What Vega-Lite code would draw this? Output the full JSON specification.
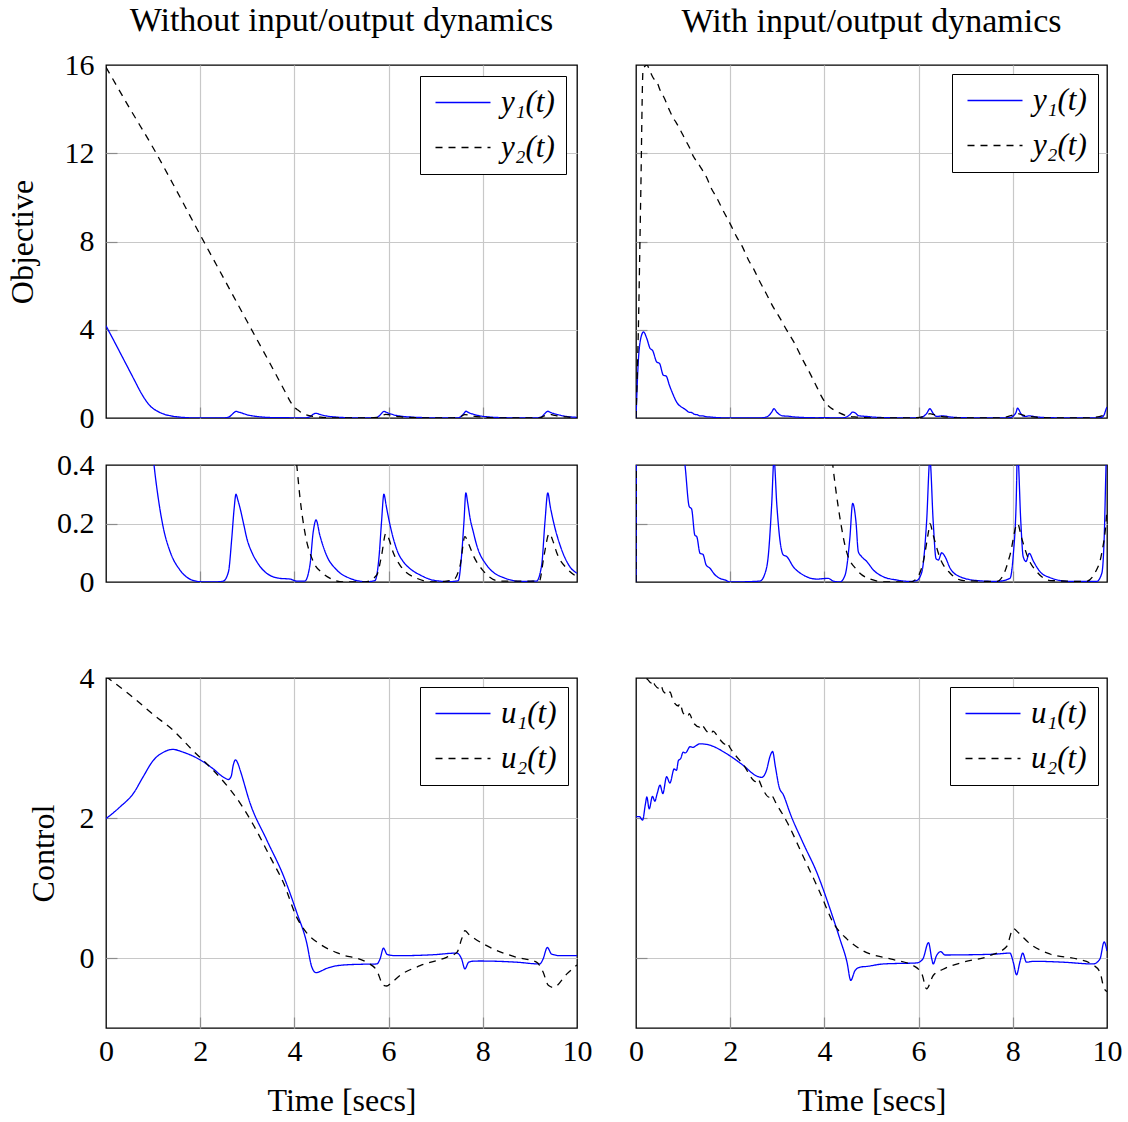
{
"$schema":"https://vega.github.io/schema/vega-lite/v6.json",
"padding":{"left":5,"top":3,"right":5,"bottom":5},
"background":"white",
"datasets":{
"yl":[
{"t":0,"v":4.18,"s":"y₁(t)"},{"t":0.2,"v":3.37,"s":"y₁(t)"},{"t":0.4,"v":2.55,"s":"y₁(t)"},{"t":0.6,"v":1.73,"s":"y₁(t)"},{"t":0.75,"v":1.12,"s":"y₁(t)"},{"t":0.85,"v":0.78,"s":"y₁(t)"},{"t":0.95,"v":0.52,"s":"y₁(t)"},{"t":1.02,"v":0.4,"s":"y₁(t)"},{"t":1.11,"v":0.286,"s":"y₁(t)"},{"t":1.22,"v":0.183,"s":"y₁(t)"},{"t":1.36,"v":0.104,"s":"y₁(t)"},{"t":1.57,"v":0.041,"s":"y₁(t)"},{"t":1.78,"v":0.01,"s":"y₁(t)"},{"t":2.0,"v":0.001,"s":"y₁(t)"},{"t":2.3,"v":0.0,"s":"y₁(t)"},{"t":2.49,"v":0.003,"s":"y₁(t)"},{"t":2.6,"v":0.035,"s":"y₁(t)"},{"t":2.67,"v":0.149,"s":"y₁(t)"},{"t":2.72,"v":0.25,"s":"y₁(t)"},{"t":2.76,"v":0.3,"s":"y₁(t)"},{"t":2.8,"v":0.28,"s":"y₁(t)"},{"t":2.85,"v":0.25,"s":"y₁(t)"},{"t":2.92,"v":0.2,"s":"y₁(t)"},{"t":2.99,"v":0.149,"s":"y₁(t)"},{"t":3.1,"v":0.1,"s":"y₁(t)"},{"t":3.2,"v":0.07,"s":"y₁(t)"},{"t":3.41,"v":0.03,"s":"y₁(t)"},{"t":3.69,"v":0.0125,"s":"y₁(t)"},{"t":3.91,"v":0.01,"s":"y₁(t)"},{"t":4.05,"v":0.003,"s":"y₁(t)"},{"t":4.22,"v":0.003,"s":"y₁(t)"},{"t":4.33,"v":0.058,"s":"y₁(t)"},{"t":4.4,"v":0.172,"s":"y₁(t)"},{"t":4.46,"v":0.212,"s":"y₁(t)"},{"t":4.54,"v":0.16,"s":"y₁(t)"},{"t":4.68,"v":0.092,"s":"y₁(t)"},{"t":4.9,"v":0.041,"s":"y₁(t)"},{"t":5.18,"v":0.0125,"s":"y₁(t)"},{"t":5.53,"v":0.001,"s":"y₁(t)"},{"t":5.71,"v":0.005,"s":"y₁(t)"},{"t":5.8,"v":0.092,"s":"y₁(t)"},{"t":5.85,"v":0.206,"s":"y₁(t)"},{"t":5.9,"v":0.3,"s":"y₁(t)"},{"t":5.95,"v":0.26,"s":"y₁(t)"},{"t":6.0,"v":0.218,"s":"y₁(t)"},{"t":6.1,"v":0.149,"s":"y₁(t)"},{"t":6.2,"v":0.1,"s":"y₁(t)"},{"t":6.31,"v":0.07,"s":"y₁(t)"},{"t":6.5,"v":0.04,"s":"y₁(t)"},{"t":6.67,"v":0.024,"s":"y₁(t)"},{"t":6.9,"v":0.008,"s":"y₁(t)"},{"t":7.09,"v":0.003,"s":"y₁(t)"},{"t":7.3,"v":0.001,"s":"y₁(t)"},{"t":7.48,"v":0.005,"s":"y₁(t)"},{"t":7.55,"v":0.092,"s":"y₁(t)"},{"t":7.6,"v":0.206,"s":"y₁(t)"},{"t":7.64,"v":0.305,"s":"y₁(t)"},{"t":7.68,"v":0.27,"s":"y₁(t)"},{"t":7.73,"v":0.218,"s":"y₁(t)"},{"t":7.8,"v":0.17,"s":"y₁(t)"},{"t":7.87,"v":0.126,"s":"y₁(t)"},{"t":8.08,"v":0.058,"s":"y₁(t)"},{"t":8.25,"v":0.03,"s":"y₁(t)"},{"t":8.44,"v":0.015,"s":"y₁(t)"},{"t":8.79,"v":0.002,"s":"y₁(t)"},{"t":9.14,"v":0.003,"s":"y₁(t)"},{"t":9.25,"v":0.058,"s":"y₁(t)"},{"t":9.32,"v":0.206,"s":"y₁(t)"},{"t":9.38,"v":0.305,"s":"y₁(t)"},{"t":9.43,"v":0.26,"s":"y₁(t)"},{"t":9.5,"v":0.206,"s":"y₁(t)"},{"t":9.64,"v":0.126,"s":"y₁(t)"},{"t":9.85,"v":0.052,"s":"y₁(t)"},{"t":10,"v":0.03,"s":"y₁(t)"},
{"t":0,"v":15.9,"s":"y₂(t)"},{"t":0.5,"v":14.05,"s":"y₂(t)"},{"t":1.0,"v":12.25,"s":"y₂(t)"},{"t":1.5,"v":10.3,"s":"y₂(t)"},{"t":2.0,"v":8.3,"s":"y₂(t)"},{"t":2.5,"v":6.33,"s":"y₂(t)"},{"t":3.0,"v":4.36,"s":"y₂(t)"},{"t":3.5,"v":2.4,"s":"y₂(t)"},{"t":3.8,"v":1.2,"s":"y₂(t)"},{"t":3.92,"v":0.72,"s":"y₂(t)"},{"t":4.0,"v":0.48,"s":"y₂(t)"},{"t":4.05,"v":0.4,"s":"y₂(t)"},{"t":4.12,"v":0.286,"s":"y₂(t)"},{"t":4.22,"v":0.172,"s":"y₂(t)"},{"t":4.4,"v":0.07,"s":"y₂(t)"},{"t":4.6,"v":0.03,"s":"y₂(t)"},{"t":4.76,"v":0.0125,"s":"y₂(t)"},{"t":5.04,"v":0.0,"s":"y₂(t)"},{"t":5.5,"v":0.0,"s":"y₂(t)"},{"t":5.75,"v":0.024,"s":"y₂(t)"},{"t":5.85,"v":0.09,"s":"y₂(t)"},{"t":5.94,"v":0.166,"s":"y₂(t)"},{"t":6.0,"v":0.15,"s":"y₂(t)"},{"t":6.1,"v":0.1,"s":"y₂(t)"},{"t":6.24,"v":0.058,"s":"y₂(t)"},{"t":6.6,"v":0.0125,"s":"y₂(t)"},{"t":6.95,"v":0.0,"s":"y₂(t)"},{"t":7.37,"v":0.007,"s":"y₂(t)"},{"t":7.52,"v":0.058,"s":"y₂(t)"},{"t":7.62,"v":0.155,"s":"y₂(t)"},{"t":7.7,"v":0.13,"s":"y₂(t)"},{"t":7.8,"v":0.09,"s":"y₂(t)"},{"t":8.0,"v":0.04,"s":"y₂(t)"},{"t":8.37,"v":0.003,"s":"y₂(t)"},{"t":9.2,"v":0.003,"s":"y₂(t)"},{"t":9.3,"v":0.09,"s":"y₂(t)"},{"t":9.41,"v":0.166,"s":"y₂(t)"},{"t":9.5,"v":0.135,"s":"y₂(t)"},{"t":9.57,"v":0.1,"s":"y₂(t)"},{"t":9.78,"v":0.047,"s":"y₂(t)"},{"t":10,"v":0.018,"s":"y₂(t)"}
],
"yr":[
{"t":0,"v":0,"s":"y₁(t)"},{"t":0.05,"v":2.6,"s":"y₁(t)"},{"t":0.1,"v":3.6,"s":"y₁(t)"},{"t":0.16,"v":3.9,"s":"y₁(t)"},{"t":0.23,"v":3.6,"s":"y₁(t)"},{"t":0.3,"v":3.15,"s":"y₁(t)"},{"t":0.35,"v":3.07,"s":"y₁(t)"},{"t":0.44,"v":2.54,"s":"y₁(t)"},{"t":0.5,"v":2.47,"s":"y₁(t)"},{"t":0.58,"v":1.94,"s":"y₁(t)"},{"t":0.64,"v":1.9,"s":"y₁(t)"},{"t":0.71,"v":1.48,"s":"y₁(t)"},{"t":0.78,"v":1.1,"s":"y₁(t)"},{"t":0.86,"v":0.73,"s":"y₁(t)"},{"t":1.0,"v":0.45,"s":"y₁(t)"},{"t":1.04,"v":0.4,"s":"y₁(t)"},{"t":1.13,"v":0.258,"s":"y₁(t)"},{"t":1.18,"v":0.25,"s":"y₁(t)"},{"t":1.25,"v":0.16,"s":"y₁(t)"},{"t":1.29,"v":0.155,"s":"y₁(t)"},{"t":1.36,"v":0.098,"s":"y₁(t)"},{"t":1.42,"v":0.095,"s":"y₁(t)"},{"t":1.49,"v":0.058,"s":"y₁(t)"},{"t":1.57,"v":0.047,"s":"y₁(t)"},{"t":1.68,"v":0.024,"s":"y₁(t)"},{"t":1.78,"v":0.0125,"s":"y₁(t)"},{"t":1.89,"v":0.007,"s":"y₁(t)"},{"t":2.0,"v":0.0,"s":"y₁(t)"},{"t":2.63,"v":0.003,"s":"y₁(t)"},{"t":2.74,"v":0.03,"s":"y₁(t)"},{"t":2.81,"v":0.092,"s":"y₁(t)"},{"t":2.88,"v":0.263,"s":"y₁(t)"},{"t":2.93,"v":0.42,"s":"y₁(t)"},{"t":2.99,"v":0.263,"s":"y₁(t)"},{"t":3.06,"v":0.138,"s":"y₁(t)"},{"t":3.13,"v":0.092,"s":"y₁(t)"},{"t":3.2,"v":0.087,"s":"y₁(t)"},{"t":3.34,"v":0.052,"s":"y₁(t)"},{"t":3.55,"v":0.024,"s":"y₁(t)"},{"t":3.84,"v":0.01,"s":"y₁(t)"},{"t":4.08,"v":0.0125,"s":"y₁(t)"},{"t":4.19,"v":0.003,"s":"y₁(t)"},{"t":4.33,"v":0.0,"s":"y₁(t)"},{"t":4.44,"v":0.024,"s":"y₁(t)"},{"t":4.54,"v":0.149,"s":"y₁(t)"},{"t":4.6,"v":0.269,"s":"y₁(t)"},{"t":4.67,"v":0.206,"s":"y₁(t)"},{"t":4.72,"v":0.104,"s":"y₁(t)"},{"t":4.79,"v":0.087,"s":"y₁(t)"},{"t":4.9,"v":0.07,"s":"y₁(t)"},{"t":5.04,"v":0.041,"s":"y₁(t)"},{"t":5.25,"v":0.018,"s":"y₁(t)"},{"t":5.53,"v":0.007,"s":"y₁(t)"},{"t":5.82,"v":0.002,"s":"y₁(t)"},{"t":5.96,"v":0.005,"s":"y₁(t)"},{"t":6.07,"v":0.035,"s":"y₁(t)"},{"t":6.17,"v":0.206,"s":"y₁(t)"},{"t":6.24,"v":0.42,"s":"y₁(t)"},{"t":6.31,"v":0.206,"s":"y₁(t)"},{"t":6.37,"v":0.08,"s":"y₁(t)"},{"t":6.42,"v":0.075,"s":"y₁(t)"},{"t":6.49,"v":0.1,"s":"y₁(t)"},{"t":6.56,"v":0.087,"s":"y₁(t)"},{"t":6.67,"v":0.047,"s":"y₁(t)"},{"t":6.88,"v":0.018,"s":"y₁(t)"},{"t":7.24,"v":0.005,"s":"y₁(t)"},{"t":7.66,"v":0.002,"s":"y₁(t)"},{"t":7.94,"v":0.0125,"s":"y₁(t)"},{"t":8.01,"v":0.092,"s":"y₁(t)"},{"t":8.07,"v":0.263,"s":"y₁(t)"},{"t":8.1,"v":0.45,"s":"y₁(t)"},{"t":8.17,"v":0.206,"s":"y₁(t)"},{"t":8.22,"v":0.087,"s":"y₁(t)"},{"t":8.28,"v":0.07,"s":"y₁(t)"},{"t":8.35,"v":0.098,"s":"y₁(t)"},{"t":8.44,"v":0.07,"s":"y₁(t)"},{"t":8.58,"v":0.035,"s":"y₁(t)"},{"t":8.79,"v":0.015,"s":"y₁(t)"},{"t":9.21,"v":0.002,"s":"y₁(t)"},{"t":9.78,"v":0.002,"s":"y₁(t)"},{"t":9.89,"v":0.03,"s":"y₁(t)"},{"t":9.94,"v":0.149,"s":"y₁(t)"},{"t":9.98,"v":0.4,"s":"y₁(t)"},{"t":10,"v":0.5,"s":"y₁(t)"},
{"t":0,"v":0,"s":"y₂(t)"},{"t":0.05,"v":4,"s":"y₂(t)"},{"t":0.1,"v":10,"s":"y₂(t)"},{"t":0.15,"v":15.8,"s":"y₂(t)"},{"t":0.23,"v":16.0,"s":"y₂(t)"},{"t":0.3,"v":15.7,"s":"y₂(t)"},{"t":0.37,"v":15.4,"s":"y₂(t)"},{"t":0.45,"v":15.2,"s":"y₂(t)"},{"t":0.51,"v":14.87,"s":"y₂(t)"},{"t":0.6,"v":14.5,"s":"y₂(t)"},{"t":0.7,"v":14.0,"s":"y₂(t)"},{"t":0.79,"v":13.6,"s":"y₂(t)"},{"t":0.85,"v":13.4,"s":"y₂(t)"},{"t":0.93,"v":13.1,"s":"y₂(t)"},{"t":1.05,"v":12.6,"s":"y₂(t)"},{"t":1.15,"v":12.2,"s":"y₂(t)"},{"t":1.22,"v":11.85,"s":"y₂(t)"},{"t":1.3,"v":11.6,"s":"y₂(t)"},{"t":1.39,"v":11.3,"s":"y₂(t)"},{"t":1.5,"v":10.9,"s":"y₂(t)"},{"t":1.6,"v":10.4,"s":"y₂(t)"},{"t":1.71,"v":10.0,"s":"y₂(t)"},{"t":1.85,"v":9.4,"s":"y₂(t)"},{"t":2.0,"v":8.8,"s":"y₂(t)"},{"t":2.14,"v":8.2,"s":"y₂(t)"},{"t":2.25,"v":7.8,"s":"y₂(t)"},{"t":2.39,"v":7.15,"s":"y₂(t)"},{"t":2.5,"v":6.75,"s":"y₂(t)"},{"t":2.6,"v":6.3,"s":"y₂(t)"},{"t":2.75,"v":5.7,"s":"y₂(t)"},{"t":2.92,"v":5.0,"s":"y₂(t)"},{"t":3.05,"v":4.55,"s":"y₂(t)"},{"t":3.2,"v":3.98,"s":"y₂(t)"},{"t":3.35,"v":3.45,"s":"y₂(t)"},{"t":3.55,"v":2.6,"s":"y₂(t)"},{"t":3.7,"v":2.0,"s":"y₂(t)"},{"t":3.84,"v":1.4,"s":"y₂(t)"},{"t":3.92,"v":1.05,"s":"y₂(t)"},{"t":4.01,"v":0.73,"s":"y₂(t)"},{"t":4.1,"v":0.52,"s":"y₂(t)"},{"t":4.19,"v":0.383,"s":"y₂(t)"},{"t":4.32,"v":0.229,"s":"y₂(t)"},{"t":4.47,"v":0.104,"s":"y₂(t)"},{"t":4.69,"v":0.041,"s":"y₂(t)"},{"t":4.97,"v":0.01,"s":"y₂(t)"},{"t":5.3,"v":0.0,"s":"y₂(t)"},{"t":5.82,"v":0.0,"s":"y₂(t)"},{"t":5.96,"v":0.0125,"s":"y₂(t)"},{"t":6.1,"v":0.07,"s":"y₂(t)"},{"t":6.21,"v":0.172,"s":"y₂(t)"},{"t":6.24,"v":0.2,"s":"y₂(t)"},{"t":6.31,"v":0.16,"s":"y₂(t)"},{"t":6.46,"v":0.08,"s":"y₂(t)"},{"t":6.67,"v":0.03,"s":"y₂(t)"},{"t":6.95,"v":0.005,"s":"y₂(t)"},{"t":7.66,"v":0.002,"s":"y₂(t)"},{"t":7.8,"v":0.024,"s":"y₂(t)"},{"t":7.94,"v":0.092,"s":"y₂(t)"},{"t":8.1,"v":0.2,"s":"y₂(t)"},{"t":8.19,"v":0.149,"s":"y₂(t)"},{"t":8.33,"v":0.08,"s":"y₂(t)"},{"t":8.51,"v":0.035,"s":"y₂(t)"},{"t":8.79,"v":0.005,"s":"y₂(t)"},{"t":9.56,"v":0.002,"s":"y₂(t)"},{"t":9.74,"v":0.03,"s":"y₂(t)"},{"t":9.89,"v":0.1,"s":"y₂(t)"},{"t":9.98,"v":0.206,"s":"y₂(t)"},{"t":10,"v":0.25,"s":"y₂(t)"}
],
"ul":[
{"t":0,"v":1.99,"s":"u₁(t)"},{"t":0.3,"v":2.16,"s":"u₁(t)"},{"t":0.58,"v":2.35,"s":"u₁(t)"},{"t":0.79,"v":2.59,"s":"u₁(t)"},{"t":1.0,"v":2.82,"s":"u₁(t)"},{"t":1.22,"v":2.94,"s":"u₁(t)"},{"t":1.42,"v":2.98,"s":"u₁(t)"},{"t":1.64,"v":2.94,"s":"u₁(t)"},{"t":2.0,"v":2.83,"s":"u₁(t)"},{"t":2.28,"v":2.7,"s":"u₁(t)"},{"t":2.5,"v":2.58,"s":"u₁(t)"},{"t":2.6,"v":2.55,"s":"u₁(t)"},{"t":2.66,"v":2.6,"s":"u₁(t)"},{"t":2.7,"v":2.75,"s":"u₁(t)"},{"t":2.75,"v":2.83,"s":"u₁(t)"},{"t":2.8,"v":2.78,"s":"u₁(t)"},{"t":2.85,"v":2.68,"s":"u₁(t)"},{"t":3.06,"v":2.21,"s":"u₁(t)"},{"t":3.41,"v":1.69,"s":"u₁(t)"},{"t":3.77,"v":1.17,"s":"u₁(t)"},{"t":4.05,"v":0.65,"s":"u₁(t)"},{"t":4.26,"v":0.22,"s":"u₁(t)"},{"t":4.37,"v":-0.13,"s":"u₁(t)"},{"t":4.46,"v":-0.21,"s":"u₁(t)"},{"t":4.55,"v":-0.19,"s":"u₁(t)"},{"t":4.68,"v":-0.15,"s":"u₁(t)"},{"t":5.04,"v":-0.1,"s":"u₁(t)"},{"t":5.4,"v":-0.09,"s":"u₁(t)"},{"t":5.75,"v":-0.085,"s":"u₁(t)"},{"t":5.82,"v":-0.01,"s":"u₁(t)"},{"t":5.89,"v":0.14,"s":"u₁(t)"},{"t":5.97,"v":0.05,"s":"u₁(t)"},{"t":6.1,"v":0.035,"s":"u₁(t)"},{"t":6.24,"v":0.033,"s":"u₁(t)"},{"t":6.95,"v":0.047,"s":"u₁(t)"},{"t":7.45,"v":0.07,"s":"u₁(t)"},{"t":7.55,"v":-0.014,"s":"u₁(t)"},{"t":7.62,"v":-0.156,"s":"u₁(t)"},{"t":7.7,"v":-0.06,"s":"u₁(t)"},{"t":7.8,"v":-0.045,"s":"u₁(t)"},{"t":7.94,"v":-0.043,"s":"u₁(t)"},{"t":8.72,"v":-0.06,"s":"u₁(t)"},{"t":9.21,"v":-0.085,"s":"u₁(t)"},{"t":9.28,"v":-0.014,"s":"u₁(t)"},{"t":9.37,"v":0.15,"s":"u₁(t)"},{"t":9.46,"v":0.057,"s":"u₁(t)"},{"t":9.64,"v":0.033,"s":"u₁(t)"},{"t":10,"v":0.033,"s":"u₁(t)"},
{"t":0,"v":4.02,"s":"u₂(t)"},{"t":0.58,"v":3.72,"s":"u₂(t)"},{"t":1.0,"v":3.48,"s":"u₂(t)"},{"t":1.43,"v":3.25,"s":"u₂(t)"},{"t":1.85,"v":2.96,"s":"u₂(t)"},{"t":2.28,"v":2.68,"s":"u₂(t)"},{"t":2.56,"v":2.47,"s":"u₂(t)"},{"t":2.85,"v":2.21,"s":"u₂(t)"},{"t":3.13,"v":1.9,"s":"u₂(t)"},{"t":3.48,"v":1.45,"s":"u₂(t)"},{"t":3.77,"v":1.07,"s":"u₂(t)"},{"t":4.05,"v":0.58,"s":"u₂(t)"},{"t":4.26,"v":0.36,"s":"u₂(t)"},{"t":4.54,"v":0.2,"s":"u₂(t)"},{"t":4.97,"v":0.057,"s":"u₂(t)"},{"t":5.53,"v":-0.06,"s":"u₂(t)"},{"t":5.75,"v":-0.18,"s":"u₂(t)"},{"t":5.89,"v":-0.39,"s":"u₂(t)"},{"t":5.96,"v":-0.4,"s":"u₂(t)"},{"t":6.05,"v":-0.36,"s":"u₂(t)"},{"t":6.24,"v":-0.25,"s":"u₂(t)"},{"t":6.67,"v":-0.11,"s":"u₂(t)"},{"t":7.23,"v":0.01,"s":"u₂(t)"},{"t":7.45,"v":0.08,"s":"u₂(t)"},{"t":7.55,"v":0.27,"s":"u₂(t)"},{"t":7.62,"v":0.39,"s":"u₂(t)"},{"t":7.7,"v":0.34,"s":"u₂(t)"},{"t":7.8,"v":0.29,"s":"u₂(t)"},{"t":8.22,"v":0.13,"s":"u₂(t)"},{"t":8.72,"v":0.01,"s":"u₂(t)"},{"t":9.14,"v":-0.06,"s":"u₂(t)"},{"t":9.28,"v":-0.2,"s":"u₂(t)"},{"t":9.39,"v":-0.39,"s":"u₂(t)"},{"t":9.5,"v":-0.42,"s":"u₂(t)"},{"t":9.78,"v":-0.23,"s":"u₂(t)"},{"t":10,"v":-0.1,"s":"u₂(t)"}
],
"ur":[
{"t":0,"v":2.02,"s":"u₁(t)"},{"t":0.08,"v":2.02,"s":"u₁(t)"},{"t":0.1,"v":2.0,"s":"u₁(t)"},{"t":0.14,"v":1.97,"s":"u₁(t)"},{"t":0.2,"v":2.2,"s":"u₁(t)"},{"t":0.23,"v":2.3,"s":"u₁(t)"},{"t":0.28,"v":2.13,"s":"u₁(t)"},{"t":0.35,"v":2.31,"s":"u₁(t)"},{"t":0.4,"v":2.24,"s":"u₁(t)"},{"t":0.45,"v":2.35,"s":"u₁(t)"},{"t":0.51,"v":2.47,"s":"u₁(t)"},{"t":0.57,"v":2.35,"s":"u₁(t)"},{"t":0.65,"v":2.59,"s":"u₁(t)"},{"t":0.72,"v":2.5,"s":"u₁(t)"},{"t":0.81,"v":2.7,"s":"u₁(t)"},{"t":0.86,"v":2.68,"s":"u₁(t)"},{"t":0.9,"v":2.82,"s":"u₁(t)"},{"t":0.95,"v":2.85,"s":"u₁(t)"},{"t":1.0,"v":2.94,"s":"u₁(t)"},{"t":1.05,"v":2.93,"s":"u₁(t)"},{"t":1.15,"v":3.02,"s":"u₁(t)"},{"t":1.2,"v":3.01,"s":"u₁(t)"},{"t":1.36,"v":3.06,"s":"u₁(t)"},{"t":1.57,"v":3.04,"s":"u₁(t)"},{"t":1.92,"v":2.92,"s":"u₁(t)"},{"t":2.28,"v":2.75,"s":"u₁(t)"},{"t":2.56,"v":2.6,"s":"u₁(t)"},{"t":2.67,"v":2.58,"s":"u₁(t)"},{"t":2.77,"v":2.68,"s":"u₁(t)"},{"t":2.85,"v":2.89,"s":"u₁(t)"},{"t":2.9,"v":2.95,"s":"u₁(t)"},{"t":2.96,"v":2.73,"s":"u₁(t)"},{"t":3.04,"v":2.44,"s":"u₁(t)"},{"t":3.13,"v":2.33,"s":"u₁(t)"},{"t":3.27,"v":2.07,"s":"u₁(t)"},{"t":3.55,"v":1.64,"s":"u₁(t)"},{"t":3.84,"v":1.22,"s":"u₁(t)"},{"t":4.12,"v":0.7,"s":"u₁(t)"},{"t":4.33,"v":0.27,"s":"u₁(t)"},{"t":4.48,"v":-0.06,"s":"u₁(t)"},{"t":4.56,"v":-0.32,"s":"u₁(t)"},{"t":4.65,"v":-0.18,"s":"u₁(t)"},{"t":4.76,"v":-0.13,"s":"u₁(t)"},{"t":4.9,"v":-0.12,"s":"u₁(t)"},{"t":5.25,"v":-0.085,"s":"u₁(t)"},{"t":5.96,"v":-0.07,"s":"u₁(t)"},{"t":6.09,"v":-0.014,"s":"u₁(t)"},{"t":6.21,"v":0.22,"s":"u₁(t)"},{"t":6.28,"v":-0.014,"s":"u₁(t)"},{"t":6.31,"v":-0.085,"s":"u₁(t)"},{"t":6.38,"v":0.033,"s":"u₁(t)"},{"t":6.47,"v":0.09,"s":"u₁(t)"},{"t":6.56,"v":0.043,"s":"u₁(t)"},{"t":6.95,"v":0.045,"s":"u₁(t)"},{"t":7.66,"v":0.057,"s":"u₁(t)"},{"t":7.94,"v":0.07,"s":"u₁(t)"},{"t":8.01,"v":-0.06,"s":"u₁(t)"},{"t":8.08,"v":-0.24,"s":"u₁(t)"},{"t":8.15,"v":-0.06,"s":"u₁(t)"},{"t":8.21,"v":0.07,"s":"u₁(t)"},{"t":8.29,"v":-0.06,"s":"u₁(t)"},{"t":8.44,"v":-0.047,"s":"u₁(t)"},{"t":9.07,"v":-0.06,"s":"u₁(t)"},{"t":9.71,"v":-0.085,"s":"u₁(t)"},{"t":9.85,"v":-0.014,"s":"u₁(t)"},{"t":9.94,"v":0.23,"s":"u₁(t)"},{"t":10,"v":0.1,"s":"u₁(t)"},
{"t":0,"v":4.1,"s":"u₂(t)"},{"t":0.26,"v":3.97,"s":"u₂(t)"},{"t":0.32,"v":3.93,"s":"u₂(t)"},{"t":0.36,"v":3.97,"s":"u₂(t)"},{"t":0.4,"v":3.9,"s":"u₂(t)"},{"t":0.5,"v":3.85,"s":"u₂(t)"},{"t":0.53,"v":3.89,"s":"u₂(t)"},{"t":0.58,"v":3.81,"s":"u₂(t)"},{"t":0.7,"v":3.76,"s":"u₂(t)"},{"t":0.72,"v":3.8,"s":"u₂(t)"},{"t":0.79,"v":3.67,"s":"u₂(t)"},{"t":0.9,"v":3.6,"s":"u₂(t)"},{"t":0.93,"v":3.64,"s":"u₂(t)"},{"t":1.0,"v":3.5,"s":"u₂(t)"},{"t":1.1,"v":3.45,"s":"u₂(t)"},{"t":1.13,"v":3.49,"s":"u₂(t)"},{"t":1.22,"v":3.36,"s":"u₂(t)"},{"t":1.35,"v":3.3,"s":"u₂(t)"},{"t":1.38,"v":3.34,"s":"u₂(t)"},{"t":1.5,"v":3.24,"s":"u₂(t)"},{"t":1.6,"v":3.2,"s":"u₂(t)"},{"t":1.63,"v":3.24,"s":"u₂(t)"},{"t":1.78,"v":3.12,"s":"u₂(t)"},{"t":1.9,"v":3.05,"s":"u₂(t)"},{"t":1.93,"v":3.08,"s":"u₂(t)"},{"t":2.0,"v":3.0,"s":"u₂(t)"},{"t":2.28,"v":2.76,"s":"u₂(t)"},{"t":2.55,"v":2.52,"s":"u₂(t)"},{"t":2.58,"v":2.56,"s":"u₂(t)"},{"t":2.7,"v":2.4,"s":"u₂(t)"},{"t":2.82,"v":2.3,"s":"u₂(t)"},{"t":2.85,"v":2.34,"s":"u₂(t)"},{"t":2.99,"v":2.19,"s":"u₂(t)"},{"t":3.2,"v":1.95,"s":"u₂(t)"},{"t":3.55,"v":1.45,"s":"u₂(t)"},{"t":3.91,"v":0.93,"s":"u₂(t)"},{"t":4.19,"v":0.5,"s":"u₂(t)"},{"t":4.48,"v":0.27,"s":"u₂(t)"},{"t":4.83,"v":0.1,"s":"u₂(t)"},{"t":5.4,"v":-0.014,"s":"u₂(t)"},{"t":5.89,"v":-0.11,"s":"u₂(t)"},{"t":6.07,"v":-0.23,"s":"u₂(t)"},{"t":6.17,"v":-0.44,"s":"u₂(t)"},{"t":6.31,"v":-0.25,"s":"u₂(t)"},{"t":6.52,"v":-0.16,"s":"u₂(t)"},{"t":6.95,"v":-0.06,"s":"u₂(t)"},{"t":7.51,"v":0.033,"s":"u₂(t)"},{"t":7.87,"v":0.165,"s":"u₂(t)"},{"t":8.01,"v":0.42,"s":"u₂(t)"},{"t":8.12,"v":0.36,"s":"u₂(t)"},{"t":8.37,"v":0.2,"s":"u₂(t)"},{"t":8.79,"v":0.057,"s":"u₂(t)"},{"t":9.36,"v":-0.014,"s":"u₂(t)"},{"t":9.67,"v":-0.085,"s":"u₂(t)"},{"t":9.85,"v":-0.2,"s":"u₂(t)"},{"t":9.93,"v":-0.42,"s":"u₂(t)"},{"t":10,"v":-0.48,"s":"u₂(t)"}
]
},
"columns":2,
"spacing":{"row":47,"column":59},
"bounds":"flush",
"resolve":{"scale":{"color":"independent","strokeDash":"independent"}},
"concat":[
  {"width":471,"height":353,"title":{"text":"Without input/output dynamics","offset":12},"data":{"name":"yl"},
   "mark":{"type":"line","clip":true,"strokeWidth":1.3,"interpolate":"monotone"},
   "encoding":{
    "x":{"field":"t","type":"quantitative","scale":{"domain":[0,10],"nice":false},"axis":{"values":[0,2,4,6,8,10],"labels":false,"title":null,"gridColor":{"condition":{"test":"datum.value == 0 || datum.value == 10","value":"transparent"},"value":"#c8c8c8"},"tickColor":{"condition":{"test":"datum.value == 0 || datum.value == 10","value":"transparent"},"value":"#8c8c8c"}}},
    "y":{"field":"v","type":"quantitative","scale":{"domain":[0,16],"nice":false},"axis":{"values":[0,4,8,12,16],"title":"Objective","titleX":-84,"titleY":176.5,"gridColor":{"condition":{"test":"datum.value == 0 || datum.value == 16","value":"transparent"},"value":"#c8c8c8"},"tickColor":{"condition":{"test":"datum.value == 0 || datum.value == 16","value":"transparent"},"value":"#8c8c8c"}}},
    "color":{"field":"s","type":"nominal","scale":{"domain":["y₁(t)","y₂(t)"],"range":["#0000ff","#000000"]},"legend":{"title":null,"orient":"top-right","offset":11}},
    "strokeDash":{"field":"s","type":"nominal","scale":{"domain":["y₁(t)","y₂(t)"],"range":[[1,0],[7,6]]},"legend":{"title":null,"orient":"top-right","offset":11}}
   }},
  {"width":471,"height":353,"title":{"text":"With input/output dynamics","offset":25},"data":{"name":"yr"},
   "mark":{"type":"line","clip":true,"strokeWidth":1.3,"interpolate":"monotone"},
   "encoding":{
    "x":{"field":"t","type":"quantitative","scale":{"domain":[0,10],"nice":false},"axis":{"values":[0,2,4,6,8,10],"labels":false,"title":null,"gridColor":{"condition":{"test":"datum.value == 0 || datum.value == 10","value":"transparent"},"value":"#c8c8c8"},"tickColor":{"condition":{"test":"datum.value == 0 || datum.value == 10","value":"transparent"},"value":"#8c8c8c"}}},
    "y":{"field":"v","type":"quantitative","scale":{"domain":[0,16],"nice":false},"axis":{"values":[0,4,8,12,16],"labels":false,"title":null,"gridColor":{"condition":{"test":"datum.value == 0 || datum.value == 16","value":"transparent"},"value":"#c8c8c8"},"tickColor":{"condition":{"test":"datum.value == 0 || datum.value == 16","value":"transparent"},"value":"#8c8c8c"}}},
    "color":{"field":"s","type":"nominal","scale":{"domain":["y₁(t)","y₂(t)"],"range":["#0000ff","#000000"]},"legend":{"title":null,"orient":"top-right","offset":9}},
    "strokeDash":{"field":"s","type":"nominal","scale":{"domain":["y₁(t)","y₂(t)"],"range":[[1,0],[7,6]]},"legend":{"title":null,"orient":"top-right","offset":9}}
   }},
  {"width":471,"height":117,"data":{"name":"yl"},
   "mark":{"type":"line","clip":true,"strokeWidth":1.3,"interpolate":"monotone"},
   "encoding":{
    "x":{"field":"t","type":"quantitative","scale":{"domain":[0,10],"nice":false},"axis":{"values":[0,2,4,6,8,10],"labels":false,"title":null,"gridColor":{"condition":{"test":"datum.value == 0 || datum.value == 10","value":"transparent"},"value":"#c8c8c8"},"tickColor":{"condition":{"test":"datum.value == 0 || datum.value == 10","value":"transparent"},"value":"#8c8c8c"}}},
    "y":{"field":"v","type":"quantitative","scale":{"domain":[0,0.4],"nice":false},"axis":{"values":[0,0.2,0.4],"format":"~g","title":null,"gridColor":{"condition":{"test":"datum.value == 0 || datum.value == 0.4","value":"transparent"},"value":"#c8c8c8"},"tickColor":{"condition":{"test":"datum.value == 0 || datum.value == 0.4","value":"transparent"},"value":"#8c8c8c"}}},
    "color":{"field":"s","type":"nominal","scale":{"domain":["y₁(t)","y₂(t)"],"range":["#0000ff","#000000"]},"legend":null},
    "strokeDash":{"field":"s","type":"nominal","scale":{"domain":["y₁(t)","y₂(t)"],"range":[[1,0],[7,6]]},"legend":null}
   }},
  {"width":471,"height":117,"data":{"name":"yr"},
   "mark":{"type":"line","clip":true,"strokeWidth":1.3,"interpolate":"monotone"},
   "encoding":{
    "x":{"field":"t","type":"quantitative","scale":{"domain":[0,10],"nice":false},"axis":{"values":[0,2,4,6,8,10],"labels":false,"title":null,"gridColor":{"condition":{"test":"datum.value == 0 || datum.value == 10","value":"transparent"},"value":"#c8c8c8"},"tickColor":{"condition":{"test":"datum.value == 0 || datum.value == 10","value":"transparent"},"value":"#8c8c8c"}}},
    "y":{"field":"v","type":"quantitative","scale":{"domain":[0,0.4],"nice":false},"axis":{"values":[0,0.2,0.4],"labels":false,"title":null,"gridColor":{"condition":{"test":"datum.value == 0 || datum.value == 0.4","value":"transparent"},"value":"#c8c8c8"},"tickColor":{"condition":{"test":"datum.value == 0 || datum.value == 0.4","value":"transparent"},"value":"#8c8c8c"}}},
    "color":{"field":"s","type":"nominal","scale":{"domain":["y₁(t)","y₂(t)"],"range":["#0000ff","#000000"]},"legend":null},
    "strokeDash":{"field":"s","type":"nominal","scale":{"domain":["y₁(t)","y₂(t)"],"range":[[1,0],[7,6]]},"legend":null}
   }},
  {"width":471,"height":2,"view":{"stroke":null},"data":{"values":[{"a":1}]},"mark":{"type":"point","opacity":0},"encoding":{}},
  {"width":471,"height":2,"view":{"stroke":null},"data":{"values":[{"a":1}]},"mark":{"type":"point","opacity":0},"encoding":{}},
  {"width":471,"height":350,"data":{"name":"ul"},
   "mark":{"type":"line","clip":true,"strokeWidth":1.3,"interpolate":"monotone"},
   "encoding":{
    "x":{"field":"t","type":"quantitative","scale":{"domain":[0,10],"nice":false},"axis":{"values":[0,2,4,6,8,10],"title":"Time [secs]","titleX":235.5,"titleY":82,"titleBaseline":"alphabetic","gridColor":{"condition":{"test":"datum.value == 0 || datum.value == 10","value":"transparent"},"value":"#c8c8c8"},"tickColor":{"condition":{"test":"datum.value == 0 || datum.value == 10","value":"transparent"},"value":"#8c8c8c"}}},
    "y":{"field":"v","type":"quantitative","scale":{"domain":[-1,4],"nice":false,"zero":false},"axis":{"values":[0,2,4],"title":"Control","titleX":-63,"titleY":175,"gridColor":{"condition":{"test":"datum.value == 4","value":"transparent"},"value":"#c8c8c8"},"tickColor":{"condition":{"test":"datum.value == 4","value":"transparent"},"value":"#8c8c8c"}}},
    "color":{"field":"s","type":"nominal","scale":{"domain":["u₁(t)","u₂(t)"],"range":["#0000ff","#000000"]},"legend":{"title":null,"orient":"top-right","offset":9}},
    "strokeDash":{"field":"s","type":"nominal","scale":{"domain":["u₁(t)","u₂(t)"],"range":[[1,0],[7,6]]},"legend":{"title":null,"orient":"top-right","offset":9}}
   }},
  {"width":471,"height":350,"data":{"name":"ur"},
   "mark":{"type":"line","clip":true,"strokeWidth":1.3,"interpolate":"monotone"},
   "encoding":{
    "x":{"field":"t","type":"quantitative","scale":{"domain":[0,10],"nice":false},"axis":{"values":[0,2,4,6,8,10],"title":"Time [secs]","titleX":235.5,"titleY":82,"titleBaseline":"alphabetic","gridColor":{"condition":{"test":"datum.value == 0 || datum.value == 10","value":"transparent"},"value":"#c8c8c8"},"tickColor":{"condition":{"test":"datum.value == 0 || datum.value == 10","value":"transparent"},"value":"#8c8c8c"}}},
    "y":{"field":"v","type":"quantitative","scale":{"domain":[-1,4],"nice":false,"zero":false},"axis":{"values":[0,2,4],"labels":false,"title":null,"gridColor":{"condition":{"test":"datum.value == 4","value":"transparent"},"value":"#c8c8c8"},"tickColor":{"condition":{"test":"datum.value == 4","value":"transparent"},"value":"#8c8c8c"}}},
    "color":{"field":"s","type":"nominal","scale":{"domain":["u₁(t)","u₂(t)"],"range":["#0000ff","#000000"]},"legend":{"title":null,"orient":"top-right","offset":9}},
    "strokeDash":{"field":"s","type":"nominal","scale":{"domain":["u₁(t)","u₂(t)"],"range":[[1,0],[7,6]]},"legend":{"title":null,"orient":"top-right","offset":9}}
   }}
],
"config":{
 "font":"Liberation Serif",
 "view":{"stroke":"#000000","strokeWidth":1.3},
 "axis":{"domain":false,"grid":true,"gridWidth":1.2,"ticks":true,"tickSize":-11,"tickWidth":1.2,"labelFont":"Liberation Serif","labelFontSize":30,"labelColor":"#000000","labelFlush":false,"labelBound":false,"labelOverlap":false,"titleFont":"Liberation Serif","titleFontSize":32,"titleFontWeight":"normal","titleColor":"#000000","titleAlign":"center"},
 "axisX":{"labelPadding":19},
 "axisY":{"labelPadding":23,"titleBaseline":"middle","titleAngle":270},
 "title":{"font":"Liberation Serif","fontSize":34,"fontWeight":"normal","color":"#000000","anchor":"middle","frame":"group","baseline":"alphabetic"},
 "legend":{"strokeColor":"#000000","fillColor":"#ffffff","padding":11,"cornerRadius":0,"labelFont":"Liberation Serif","labelFontSize":31,"labelFontStyle":"italic","labelColor":"#000000","symbolType":"M-1,0H4","symbolSize":484,"symbolStrokeWidth":1.3,"labelOffset":39,"rowPadding":13}
}
}
